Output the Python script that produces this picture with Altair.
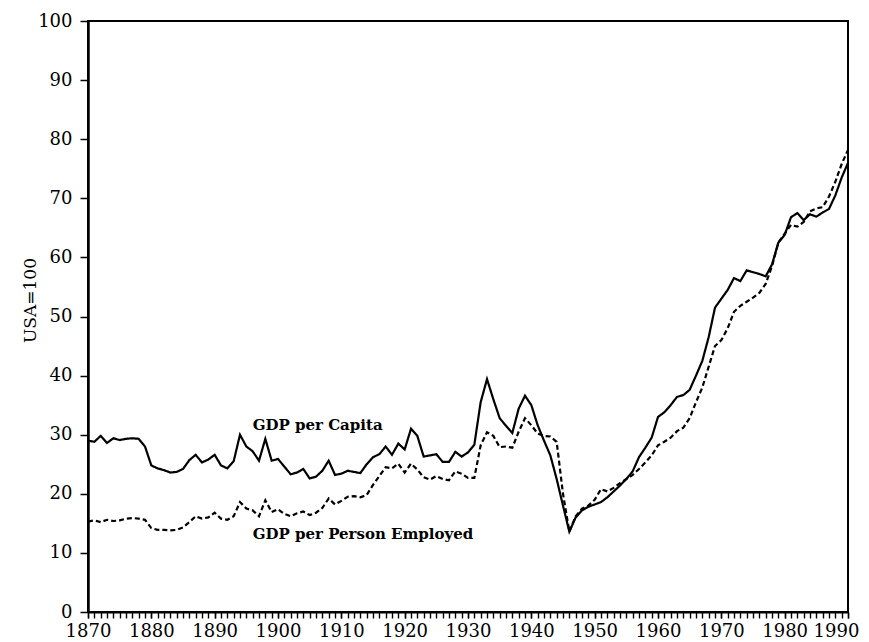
import altair as alt
import pandas as pd

years = list(range(1870, 1991))

gdp_per_capita = [
    29.0, 28.8, 29.8, 28.6, 29.4, 29.1, 29.3, 29.4, 29.3, 28.0,   # 1870-1879
    24.8, 24.3, 24.0, 23.6, 23.7, 24.2, 25.7, 26.6, 25.3, 25.8,   # 1880-1889
    26.6, 24.8, 24.3, 25.5, 30.0, 28.0, 27.2, 25.6, 29.3, 25.6,   # 1890-1899
    25.9, 24.6, 23.3, 23.6, 24.2, 22.6, 22.9, 23.9, 25.6, 23.2,   # 1900-1909
    23.4, 23.9, 23.7, 23.5, 25.0, 26.2, 26.7, 28.0, 26.6, 28.5,   # 1910-1919
    27.5, 31.0, 29.8, 26.3, 26.5, 26.7, 25.4, 25.4, 27.1, 26.3,   # 1920-1929
    27.0, 28.3, 35.5, 39.4, 36.0, 32.8, 31.5, 30.3, 34.4, 36.6,   # 1930-1939
    35.0, 31.6, 29.0, 26.5, 22.5, 18.0, 13.6, 16.0, 17.2, 17.8,   # 1940-1949
    18.2, 18.6, 19.4, 20.4, 21.4, 22.5, 23.8, 26.2, 27.8, 29.5,   # 1950-1959
    33.0, 33.8, 35.0, 36.4, 36.7, 37.6, 40.0, 42.5, 46.5, 51.5,   # 1960-1969
    53.0, 54.5, 56.5, 56.0, 57.8, 57.5, 57.2, 56.8, 58.8, 62.5,   # 1970-1979
    63.8, 66.8, 67.5, 66.3, 67.3, 66.9, 67.6, 68.2, 70.5, 73.5,   # 1980-1989
    76.0,                                                         # 1990
]

gdp_per_person_employed = [
    15.3, 15.5, 15.2, 15.6, 15.4, 15.5, 15.8, 15.9, 15.8, 15.6,   # 1870-1879
    14.2, 13.9, 13.9, 13.8, 13.9, 14.3, 15.2, 16.2, 15.8, 16.0,   # 1880-1889
    16.8, 15.8, 15.6, 16.2, 18.6, 17.5, 17.2, 16.2, 18.9, 16.9,   # 1890-1899
    17.4, 16.6, 16.2, 16.7, 17.0, 16.4, 16.8, 17.6, 19.2, 18.2,   # 1900-1909
    18.8, 19.5, 19.6, 19.4, 19.8, 21.5, 23.0, 24.5, 24.3, 25.1,   # 1910-1919
    23.6, 25.1, 24.1, 22.8, 22.4, 23.0, 22.5, 22.3, 23.8, 23.4,   # 1920-1929
    22.7, 22.7, 28.2, 30.4, 29.8, 27.9, 28.0, 27.8, 30.5, 32.8,   # 1930-1939
    31.6, 30.2, 29.8, 29.7, 28.8, 20.0, 13.6, 16.2, 17.5, 18.0,   # 1940-1949
    19.0, 20.8, 20.4, 21.0, 21.8, 22.5, 23.2, 24.2, 25.3, 26.5,   # 1950-1959
    28.2, 28.8, 29.5, 30.6, 31.2, 32.8, 35.5, 38.0, 41.5, 45.0,   # 1960-1969
    46.0, 48.0, 50.8, 51.8, 52.5, 53.2, 54.0, 55.5, 58.5, 62.5,   # 1970-1979
    64.0, 65.5, 65.2, 66.0, 67.8, 68.3, 68.5, 70.3, 72.8, 75.8,   # 1980-1989
    78.2,                                                         # 1990
]

series_names = ["GDP per Capita", "GDP per Person Employed"]
label_years = [1896, 1896]
label_values = [31.6, 13.2]

decade_ticks = list(range(1870, 1991, 10))
year_ticks = years
y_tick_values = [0, 10, 20, 30, 40, 50, 60, 70, 80, 90, 100]

df = pd.DataFrame({
    "year": years * 2,
    "value": gdp_per_capita + gdp_per_person_employed,
    "series": [series_names[0]] * len(years) + [series_names[1]] * len(years),
})
labels = pd.DataFrame({"year": label_years, "value": label_values, "text": series_names})

FONT = "DejaVu Serif"
x_scale = alt.Scale(domain=[1870, 1990], nice=False, zero=False)
y_scale = alt.Scale(domain=[0, 100], nice=False)

x_major = alt.X(
    "year:Q",
    scale=x_scale,
    axis=alt.Axis(
        orient="bottom",
        values=decade_ticks,
        format="d",
        labelOverlap=False,
        labelFlush=False,
        labelAlign="center",
        labelOffset={"condition": {"test": "datum.value == 1990", "value": -12}, "value": 0},
        tickSize=6,
        tickWidth=1.4,
        tickColor="black",
        domainColor="black",
        domainWidth=2,
        labelFont=FONT,
        labelFontSize=18,
        labelColor="black",
        labelPadding=4,
        grid=False,
        title=None,
    ),
)
x_minor = alt.X(
    "year:Q",
    scale=x_scale,
    axis=alt.Axis(
        orient="bottom",
        values=year_ticks,
        labels=False,
        domain=False,
        tickSize=6,
        tickWidth=1.4,
        tickColor="black",
        grid=False,
        title=None,
    ),
)
y_enc = alt.Y(
    "value:Q",
    scale=y_scale,
    axis=alt.Axis(
        values=y_tick_values,
        format="d",
        tickSize=8,
        tickWidth=1.5,
        tickColor="black",
        domainColor="black",
        domainWidth=2.5,
        labelFont=FONT,
        labelFontSize=18,
        labelColor="black",
        labelPadding=8,
        grid=False,
        title="USA=100",
        titleFont=FONT,
        titleFontSize=17,
        titleFontWeight="normal",
        titleColor="black",
        titleX=-58,
        titleY=279,
        titleAlign="center",
        titleBaseline="middle",
    ),
)

lines = alt.Chart(df).mark_line(color="black", strokeWidth=2.2).encode(
    x=x_major,
    y=y_enc,
    strokeDash=alt.StrokeDash(
        "series:N",
        scale=alt.Scale(domain=series_names, range=[[1, 0], [5, 3]]),
        legend=None,
    ),
    detail="series:N",
)

text = alt.Chart(labels).mark_text(
    align="left", baseline="middle", font=FONT, fontSize=15, fontWeight="bold", color="black"
).encode(x=x_minor, y=alt.Y("value:Q", scale=y_scale), text="text:N")

chart = (
    alt.layer(lines, text)
    .resolve_axis(x="independent")
    .properties(
        width=760,
        height=591,
        autosize=alt.AutoSizeParams(type="none"),
        padding={"left": 80, "top": 13, "right": 13, "bottom": 30},
        background="white",
    )
    .configure_view(stroke="black", strokeWidth=2)
)

chart.save("out.html", embed_options={"renderer": "svg", "actions": False})
